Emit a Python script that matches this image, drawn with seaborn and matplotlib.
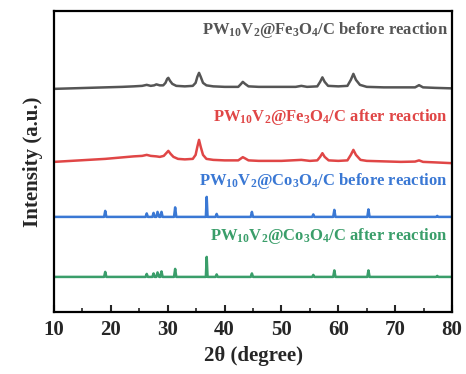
import matplotlib
matplotlib.use("Agg")
import matplotlib.pyplot as plt
import pandas as pd
import seaborn as sns
from matplotlib.ticker import MultipleLocator

# XRD patterns: 2theta (deg) and intensity above each baseline
FE_BEFORE_X = [10, 13, 16, 19, 22, 24, 25.5, 26.3, 27, 27.6, 28, 28.6, 29.2, 29.6, 29.9, 30.1, 30.4,
               30.8, 31.5, 33, 34.4, 34.9, 35.2, 35.5, 35.8, 36.2, 36.8, 38, 40, 42.4, 42.9, 43.2,
               43.6, 44.2, 46, 50, 52.5, 53.5, 54.5, 56.3, 56.8, 57.2, 57.6, 58.2, 60, 61.6, 62.2,
               62.65, 63.1, 63.8, 65, 68, 71, 73.5, 74.2, 74.9, 77, 80]
FE_BEFORE_Y = [0, 0.5, 1, 1.5, 2, 2.5, 3, 4, 3, 3.5, 4.5, 3.5, 3.5, 6, 10, 11, 8,
               5, 3, 2.5, 3, 6, 12, 16, 12, 6, 3.5, 2.5, 2, 2, 5, 7,
               5, 2.5, 2, 2, 2, 3, 2, 2.5, 7, 11.5, 7, 3, 2.5, 3, 9,
               15, 9, 4, 2, 1.5, 1.5, 1.5, 3.7, 1.5, 1, 0.5]

FE_AFTER_X = [10, 13, 16, 19, 22, 24, 25.5, 26.3, 27, 28, 28.6, 29.3, 29.7, 30.1, 30.5, 31,
              31.8, 33, 34.4, 34.9, 35.2, 35.5, 35.8, 36.2, 36.8, 38, 40, 42.4, 42.9, 43.2, 43.6,
              44.2, 46, 50, 53.5, 55, 56.3, 56.8, 57.2, 57.6, 58.3, 60, 61.6, 62.2, 62.65, 63.1,
              63.9, 65, 68, 71, 73.5, 74.2, 74.9, 77, 80]
FE_AFTER_Y = [0, 1, 2, 3, 4.5, 5.5, 6, 7, 6, 5.5, 5, 6, 8.5, 11, 8, 5,
              3, 2.5, 3, 7, 15, 22, 15, 7, 3, 2, 1.5, 1.5, 3.5, 4.7, 3.5,
              1.5, 1, 1, 2, 1, 1.5, 5, 8.7, 5, 1.5, 1, 1.5, 7, 12, 7,
              2, 1, 0.5, 0, 0.3, 1.5, 0, -0.5, -1.3]

CO_BEFORE_X = [10, 18.8, 19, 19.2, 26.1, 26.3, 26.5, 27.3, 27.5, 27.7, 28.0, 28.2, 28.5, 28.7, 28.9,
               29.1, 31.1, 31.3, 31.5, 36.7, 36.85, 37.0, 38.4, 38.6, 38.8, 44.6, 44.8, 45.0,
               55.4, 55.6, 55.8, 59.1, 59.3, 59.5, 65.1, 65.3, 65.5, 77.2, 77.4, 77.6, 80]
CO_BEFORE_Y = [0, 0, 6, 0, 0, 3.5, 0, 0, 4, 0, 0, 5, 0, 0, 5,
               0, 0, 9.5, 0, 0, 20, 0, 0, 3, 0, 0, 5, 0,
               0, 2.5, 0, 0, 7, 0, 0, 7.5, 0, 0, 1, 0, 0]

CO_AFTER_X = CO_BEFORE_X
CO_AFTER_Y = [0, 0, 5, 0, 0, 3, 0, 0, 3.5, 0, 0, 4.5, 0, 0, 5.5,
              0, 0, 8, 0, 0, 20, 0, 0, 2.5, 0, 0, 3.5, 0,
              0, 2, 0, 0, 6.5, 0, 0, 6.5, 0, 0, 1, 0, 0]

LABELS = [
    "PW$_{10}$V$_2$@Fe$_3$O$_4$/C before reaction",
    "PW$_{10}$V$_2$@Fe$_3$O$_4$/C after reaction",
    "PW$_{10}$V$_2$@Co$_3$O$_4$/C before reaction",
    "PW$_{10}$V$_2$@Co$_3$O$_4$/C after reaction",
]
OFFSETS = [223, 150, 95, 35]
COLORS = ["#555555", "#e04646", "#3a78d4", "#3a9e6a"]

sns.set_theme(style="ticks")
plt.rcParams["font.family"] = ["Liberation Serif", "DejaVu Serif"]
plt.rcParams["font.weight"] = "bold"
plt.rcParams["mathtext.default"] = "regular"

series = [
    (FE_BEFORE_X, FE_BEFORE_Y),
    (FE_AFTER_X, FE_AFTER_Y),
    (CO_BEFORE_X, CO_BEFORE_Y),
    (CO_AFTER_X, CO_AFTER_Y),
]
frames = []
for i, (xs, ys) in enumerate(series):
    frames.append(pd.DataFrame({
        "two_theta": xs,
        "intensity": [y + OFFSETS[i] for y in ys],
        "sample": LABELS[i],
    }))
df = pd.concat(frames, ignore_index=True)

fig = plt.figure(figsize=(4.66, 3.74), dpi=100)
ax = fig.add_axes([0.116, 0.166, 0.854, 0.805])
sns.lineplot(data=df, x="two_theta", y="intensity", hue="sample",
             palette=COLORS, hue_order=LABELS, linewidth=1.8,
             legend=False, ax=ax, sort=False)

ax.set_xlim(10, 80)
ax.set_ylim(0, 301)
ax.set_yticks([])
ax.xaxis.set_major_locator(MultipleLocator(10))
ax.xaxis.set_minor_locator(MultipleLocator(5))
ax.tick_params(axis="x", which="major", direction="in", length=5, width=1.5,
               labelsize=15, pad=6)
ax.tick_params(axis="x", which="minor", direction="in", length=3, width=1.2)
for lbl in ax.get_xticklabels():
    lbl.set_fontweight("bold")
for spine in ax.spines.values():
    spine.set_linewidth(1.6)
    spine.set_color("black")

ax.set_xlabel("2θ (degree)", fontsize=15, fontweight="bold")
ax.set_ylabel("Intensity (a.u.)", fontsize=15, fontweight="bold", labelpad=8)

label_y = [282, 195, 131, 76]
for text, yv, c in zip(LABELS, label_y, COLORS):
    ax.text(79.3, yv, text, color=c, fontsize=12, fontweight="bold",
            ha="right", va="center")

fig.savefig("out.png", dpi=100)
